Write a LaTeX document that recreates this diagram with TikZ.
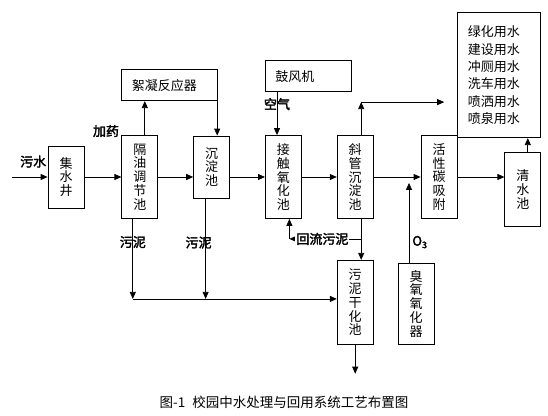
\documentclass[tikz,border=0pt]{standalone}
\usepackage{fontspec}
\setmainfont{Noto Sans CJK SC}
\newfontfamily\cjkbold[FakeBold=2.5]{Noto Sans CJK SC}
\usetikzlibrary{arrows.meta, positioning}

\begin{document}
\begin{tikzpicture}[x=1pt, y=-1pt, line width=0.8pt,
      unit/.style={draw, inner sep=0pt, minimum width=36pt, minimum height=83pt, align=center, font=\fontsize{13}{13.8}\selectfont},
      wide/.style={draw, inner xsep=10pt, inner ysep=0pt, minimum height=31pt, align=left, font=\fontsize{13}{13.8}\selectfont},
      lab/.style={font=\cjkbold\fontsize{13}{14}\selectfont, inner sep=1pt},
      arr/.style={-{Triangle[length=7pt, width=6pt]}}]
    \useasboundingbox (0,0) rectangle (548,415);
    \node[unit, minimum height=62pt] (jsj) at (66,177) {集\\水\\井};
    \node[unit, right=37pt of jsj] (gy) {隔\\油\\调\\节\\池};
    \node[unit, minimum height=62pt, right=35pt of gy, yshift=10pt] (cd) {沉\\淀\\池};
    \node[unit, right=35pt of cd, yshift=-10pt] (jc) {接\\触\\氧\\化\\池};
    \node[unit, right=35pt of jc] (xg) {斜\\管\\沉\\淀\\池};
    \node[unit, right=47pt of xg] (hx) {活\\性\\碳\\吸\\附};
    \node[unit, minimum height=74pt, right=47pt of hx, yshift=-12.5pt] (qs) {清\\水\\池};
    \node[wide, text width=63pt, minimum height=125pt, font=\fontsize{13}{17.3}\selectfont, above=14pt of qs, xshift=-23.5pt] (yt)
      {绿化用水\\建设用水\\冲厕用水\\洗车用水\\喷洒用水\\喷泉用水};
    \node[wide, text width=76pt, above=34pt of gy.north west, anchor=south west] (xn) {絮凝反应器};
    \node[wide, text width=66pt, above=43pt of jc.north west, anchor=south west] (gf) {鼓风机};
    \node[unit, minimum height=84pt, below=41pt of xg] (wn) {污\\泥\\干\\化\\池};
    \node[unit, minimum height=81pt, right=24pt of wn, yshift=-1.5pt] (cy) {臭\\氧\\氧\\化\\器};
    % main line
    \coordinate[left=36pt of jsj] (in);
    \draw[arr] (in) -- node[lab, above=8pt, pos=0.6] (ws) {污水} (jsj);
    \draw[arr] (jsj) -- (gy);
    \draw[arr] (gy.east) -- (gy.east -| cd.west);
    \draw[arr] (gy.east -| cd.east) -- (jc);
    \draw[arr] (jc) -- (xg);
    \draw[arr] (xg) -- (hx);
    \draw[arr] (hx.east) -- (hx.east -| qs.west);
    \draw[arr] ([xshift=5pt]qs.north) -- ([xshift=5pt]qs.north |- yt.south);
    % dosing and air
    \draw[arr] ([xshift=5pt]gy.north) -- ([xshift=5pt]gy.north |- xn.south);
    \node[lab, left=1pt of gy.north west, yshift=4pt] (jy) {加药};
    \draw[arr] ([xshift=-1pt]xn.south east) -- ([xshift=-1pt]xn.south east |- cd.north);
    \draw[arr] ([xshift=12pt]gf.south west) -- node[lab, pos=0.28] (kq) {空气} ([xshift=12pt]gf.south west |- jc.north);
    \draw[arr] ([xshift=6pt]xg.north) -- ++(0,-33) coordinate (tp);
    \draw[arr] (tp) -- ++(83,0) coordinate (ru);
    \draw[arr] ([xshift=-7pt]cy.north) -- node[lab, pos=0.26, right=2pt] (o3) {O\textsubscript{3}} ++(0,-80);
    % sludge
    \draw[arr] ([xshift=6pt]xg.south) -- ([xshift=6pt]xg.south |- wn.north);
    \coordinate (hl) at ([xshift=6pt, yshift=-20pt]xg.south);
    \coordinate (hr) at ([xshift=6pt]jc.south);
    \draw[arr] (hl) -- node[lab, fill=white, pos=0.54] (hlw) {回流污泥} (hl -| hr);
    \draw[arr] (hl -| hr) -- (hr);
    \coordinate (sa) at ([xshift=-7pt]gy.south);
    \coordinate (sb) at ([xshift=-6pt]cd.south);
    \draw[arr] (sa) -- node[lab, pos=0.29] (wa) {污泥} ++(0,80) coordinate (sl);
    \draw[arr] (sb) -- node[lab, pos=0.44, xshift=-7pt] (wb) {污泥} (sb |- sl);
    \draw[arr] (sl) -- (sl -| wn.west);
    \draw[arr] (wn.south) -- ++(0,29) coordinate (out);
    \node[font=\fontsize{13.5}{14}\selectfont] (cap) at (284,402) {图-1\hspace{7pt}校园中水处理与回用系统工艺布置图};
  \end{tikzpicture}
\end{document}
